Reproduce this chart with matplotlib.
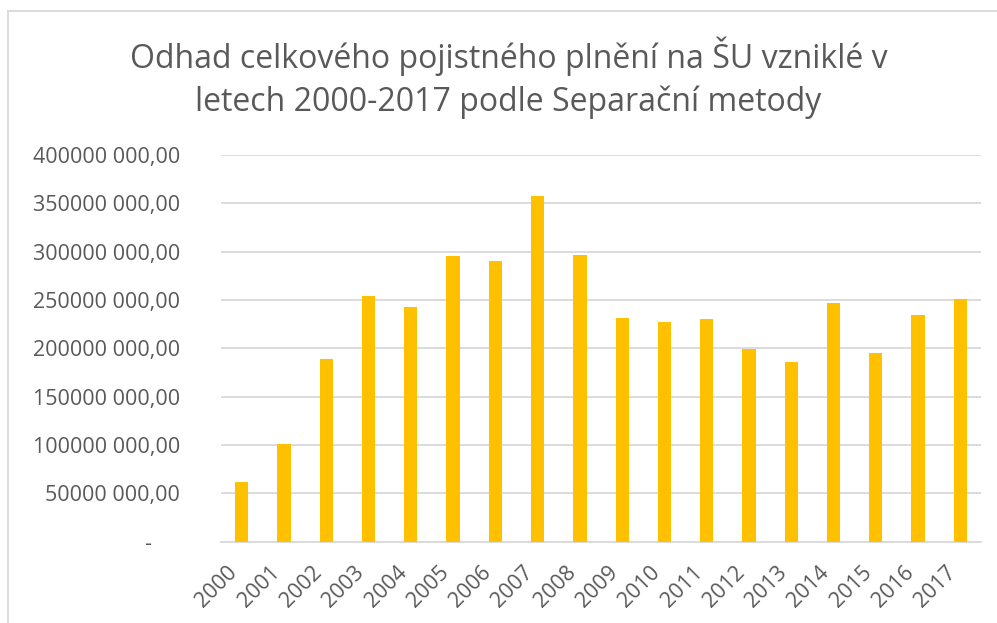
import matplotlib
matplotlib.use('Agg')
import matplotlib.pyplot as plt
from matplotlib.lines import Line2D

plt.rcParams['font.family'] = ['Open Sans', 'DejaVu Sans']

# Values (CZK)
years = ['2000', '2001', '2002', '2003', '2004', '2005', '2006', '2007', '2008',
         '2009', '2010', '2011', '2012', '2013', '2014', '2015', '2016', '2017']
claims = [61.9e6, 100.5e6, 188.5e6, 254.3e6, 242.6e6, 295.3e6, 290.5e6, 357.4e6,
          296.4e6, 231.2e6, 227.1e6, 229.8e6, 198.8e6, 185.7e6, 246.7e6, 195.0e6,
          234.0e6, 250.8e6]
y_ticks = [0, 50e6, 100e6, 150e6, 200e6, 250e6, 300e6, 350e6, 400e6]
y_tick_labels = ['-     ', '50000 000,00', '100000 000,00', '150000 000,00',
                 '200000 000,00', '250000 000,00', '300000 000,00',
                 '350000 000,00', '400000 000,00']
title = 'Odhad celkového pojistného plnění na ŠU vzniklé v\nletech 2000-2017 podle Separační metody'

text_col = '#595959'
grid_col = '#D9D9D9'

fig = plt.figure(figsize=(9.97, 6.23), dpi=100)
ax = fig.add_axes([0.2213, 0.1308, 0.7631, 0.6204])

x = range(len(years))
ax.bar(x, claims, width=0.315, color='#FFC000', zorder=3)

ax.set_xlim(-0.5, len(years) - 0.5)
ax.set_ylim(0, 400e6)
ax.set_yticks(y_ticks)
ax.set_yticklabels(y_tick_labels)
ax.set_xticks(list(x))
ax.set_xticklabels(years, rotation=45, ha='right')

ax.tick_params(axis='y', length=0, pad=29, labelsize=15.5, labelcolor=text_col)
ax.tick_params(axis='x', length=0, pad=15, labelsize=15.5, labelcolor=text_col)
ax.grid(axis='y', color=grid_col, linewidth=1.3, zorder=0)
for s in ['top', 'right', 'left']:
  ax.spines[s].set_visible(False)
ax.spines['bottom'].set_color(grid_col)
ax.spines['bottom'].set_linewidth(1.3)

fig.text(0.51, 0.942, title, ha='center', va='top', fontsize=23,
         color=text_col, linespacing=1.38)

# chart area border (left and top edge visible)
fig.add_artist(Line2D([8 / 997, 8 / 997], [0, 1 - 11 / 623], color=grid_col, lw=1.3))
fig.add_artist(Line2D([8 / 997, 1], [1 - 11 / 623, 1 - 11 / 623], color=grid_col, lw=1.3))

fig.savefig('out.png', dpi=100)
